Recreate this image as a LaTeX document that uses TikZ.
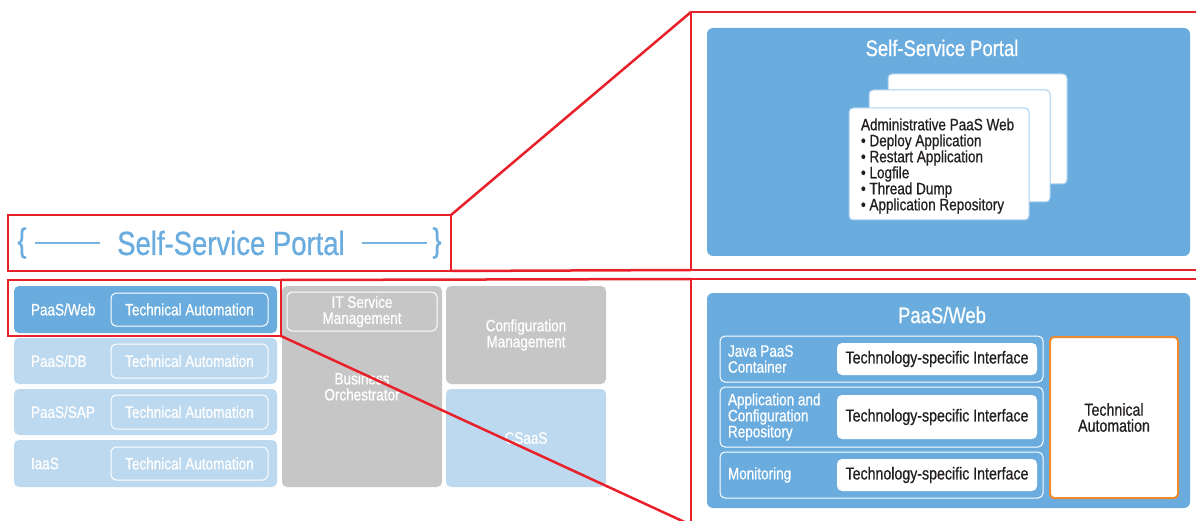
\documentclass[tikz,border=0pt]{standalone}
\usepackage{fontspec}
\setmainfont{Liberation Sans}[FakeStretch=0.82, FakeBold=0.7]
\usetikzlibrary{positioning}

\definecolor{portalblue}{HTML}{6AACDE}
\definecolor{paleblue}{HTML}{BDD9EF}
\definecolor{boxgray}{HTML}{C6C6C6}
\definecolor{zoomred}{HTML}{E8202A}
\definecolor{autoorange}{HTML}{F08A30}
\definecolor{inktext}{HTML}{231F20}
\definecolor{cardline}{HTML}{A8CFEE}

\newcommand\bodysize{\fontsize{16.5}{16}\selectfont}
\newcommand\ifacesize{\fontsize{17.3}{16}\selectfont}
\newcommand\headsize{\fontsize{22.5}{24}\selectfont}
\newcommand\bigsize{\fontsize{33.5}{36}\selectfont}

\tikzset{
  every node/.style={inner sep=0pt, outer sep=0pt},
  tile/.style={anchor=north west, rounded corners=5pt, font=\bodysize, text=white, align=center},
  slot/.style={tile, draw=white, line width=1pt},
  panel/.style={anchor=north west, rounded corners=6pt, fill=portalblue},
  card/.style={anchor=north west, rounded corners=4pt, fill=white, draw=cardline, line width=1pt},
  iface/.style={tile, fill=white, text=inktext, font=\ifacesize},
  rowlabel/.style={anchor=west, font=\bodysize, text=white, align=left},
  heading/.style={font=\headsize, text=white},
  zoomframe/.style={anchor=north west, draw=zoomred, line width=2.5pt},
  zoomline/.style={draw=zoomred, line width=2.5pt},
  bigtitle/.style={font=\bigsize, text=portalblue},
  braceline/.style={draw=portalblue!90, line width=2pt}
}

\begin{document}
\begin{tikzpicture}[x=1pt, y=-1pt]
  \useasboundingbox (0,0) rectangle (1196,521);

  % portal title with braces
  \node[bigtitle] (ssptitle) at (231,243) {Self-Service Portal};
  \node[bigtitle] (lbrace) at (22,243) {\{};
  \node[bigtitle] (rbrace) at (437,243) {\}};
  \draw[braceline, shorten <=8pt, shorten >=17pt] (lbrace) -- (ssptitle);
  \draw[braceline, shorten <=17pt, shorten >=5pt] (ssptitle) -- (rbrace);

  % service stacks
  \node[tile, fill=portalblue, minimum width=263, minimum height=47] (paasweb) at (14,286) {};
  \node[rowlabel] (paasweblbl) at (31,309.5) {PaaS/Web};
  \node[slot, minimum width=157, minimum height=33] (paaswebta) at (111,293) {Technical Automation};

  \node[tile, fill=paleblue, minimum width=263, minimum height=46] (paasdb) at (14,338) {};
  \node[rowlabel] (paasdblbl) at (31,361) {PaaS/DB};
  \node[slot, minimum width=157, minimum height=34] (paasdbta) at (111,344) {Technical Automation};

  \node[tile, fill=paleblue, minimum width=263, minimum height=46] (paassap) at (14,389) {};
  \node[rowlabel] (paassaplbl) at (31,412) {PaaS/SAP};
  \node[slot, minimum width=157, minimum height=34] (paassapta) at (111,395) {Technical Automation};

  \node[tile, fill=paleblue, minimum width=263, minimum height=47] (iaas) at (14,440) {};
  \node[rowlabel] (iaaslbl) at (31,463.5) {IaaS};
  \node[slot, minimum width=157, minimum height=33] (iaasta) at (111,447) {Technical Automation};

  % orchestration and management
  \node[tile, fill=boxgray, minimum width=160, minimum height=201] (orch) at (282,286) {Business\\Orchestrator};
  \node[slot, minimum width=150, minimum height=39] (itsm) at (287,292) {IT Service\\Management};
  \node[tile, fill=boxgray, minimum width=160, minimum height=98] (config) at (446,286) {Configuration\\Management};
  \node[tile, fill=paleblue, minimum width=160, minimum height=98] (csaas) at (446,389) {CSaaS};

  % self-service portal detail
  \node[panel, minimum width=483, minimum height=228] (portalpanel) at (707,28) {};
  \node[heading] (portalhead) at (942,48) {Self-Service Portal};
  \node[card, minimum width=179, minimum height=110] (cardback) at (888,74) {};
  \node[card, minimum width=181, minimum height=112] (cardmid) at (869,90) {};
  \node[card, minimum width=180, minimum height=112] (cardfront) at (849,108) {};
  \node[rowlabel, text=inktext] (cardtext) at (861,166) {Administrative PaaS Web\\
    \textbullet\ Deploy Application\\
    \textbullet\ Restart Application\\
    \textbullet\ Logfile\\
    \textbullet\ Thread Dump\\
    \textbullet\ Application Repository};

  % PaaS/Web detail
  \node[panel, minimum width=483, minimum height=215] (webpanel) at (707,293) {};
  \node[heading] (webhead) at (942,315) {PaaS/Web};
  \node[slot, minimum width=323, minimum height=46] (rowjava) at (720,336) {};
  \node[slot, minimum width=323, minimum height=60] (rowrepo) at (720,387) {};
  \node[slot, minimum width=323, minimum height=46] (rowmon) at (720,452) {};
  \node[rowlabel] (javalbl) at (728,359) {Java PaaS\\Container};
  \node[rowlabel] (repolbl) at (728,417) {Application and\\Configuration\\Repository};
  \node[rowlabel] (monlbl) at (728,475) {Monitoring};
  \node[iface, minimum width=200, minimum height=32] (javaif) at (837,343) {Technology-specific Interface};
  \node[iface, minimum width=200, minimum height=44] (repoif) at (837,395) {Technology-specific Interface};
  \node[iface, minimum width=200, minimum height=32] (monif) at (837,459) {Technology-specific Interface};
  \node[iface, draw=autoorange, line width=2pt, rounded corners=4pt, minimum width=128, minimum height=161] (webta) at (1050,337) {Technical\\Automation};

  % zoom frames
  \node[zoomframe, minimum width=443, minimum height=56] (topsel) at (8,215) {};
  \node[zoomframe, minimum width=273, minimum height=56] (websel) at (8,280) {};
  \node[zoomframe, minimum width=520, minimum height=258] (portalzoom) at (691,12) {};
  \node[zoomframe, minimum width=520, minimum height=246] (webzoom) at (691,279) {};
  \draw[zoomline] (topsel.north east) -- (portalzoom.north west);
  \draw[zoomline] (topsel.south east) -- (portalzoom.south west);
  \draw[zoomline] (websel.north east) -- (webzoom.north west);
  \draw[zoomline] (websel.south east) -- (webzoom.south west);
\end{tikzpicture}
\end{document}
